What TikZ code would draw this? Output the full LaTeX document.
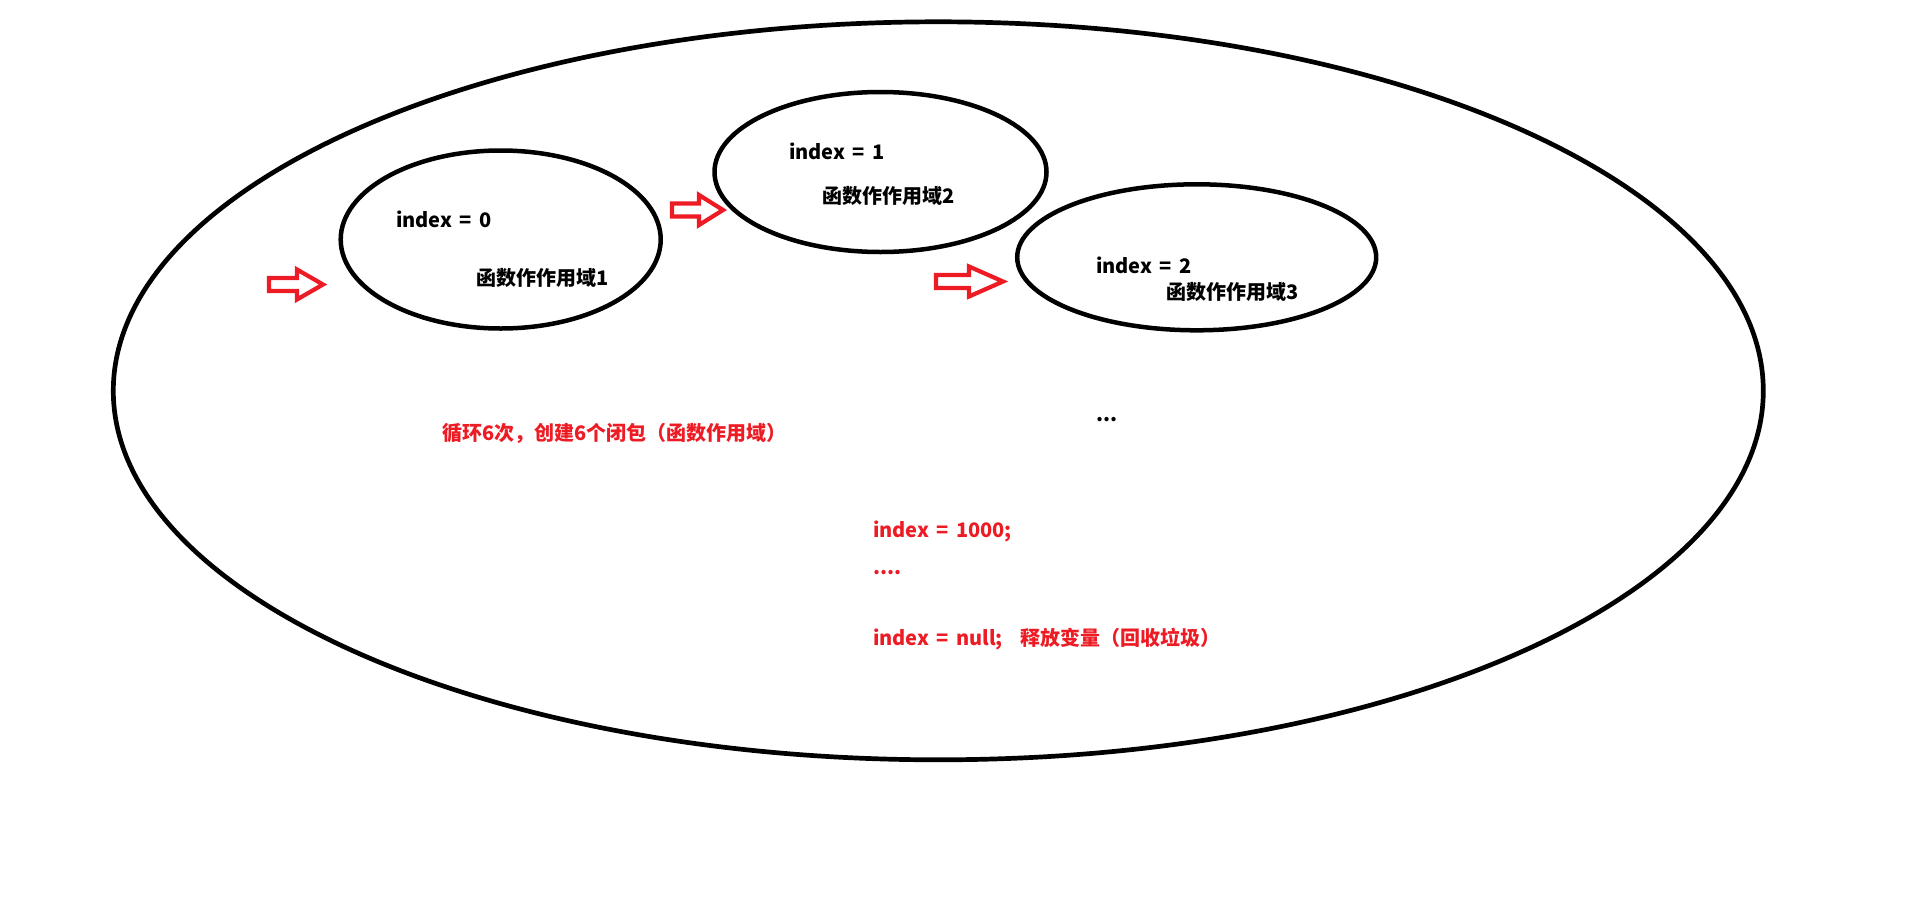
\documentclass[tikz,border=0pt]{standalone}
\usepackage{fontspec}
\setmainfont{Noto Sans CJK SC}[WordSpace=1.6]
\definecolor{paintred}{HTML}{ED1C24}
\begin{document}
\begin{tikzpicture}[x=1pt,y=-1pt,
  ring/.style={draw=black,line width=4.5pt},
  bigring/.style={draw=black,line width=4.7pt},
  arrowline/.style={draw=paintred,line width=4.2pt,line join=miter},
  lbl/.style={anchor=base west,inner sep=0pt,font=\bfseries\fontsize{20}{24}\selectfont},
  redlbl/.style={lbl,text=paintred}]
\useasboundingbox (0,0) rectangle (1914,916);
% big ellipse
\draw[bigring] (938.3,390.8) ellipse [x radius=825, y radius=369];
% scope ellipses
\draw[ring] (500.7,239.5) ellipse [x radius=160, y radius=89];
\draw[ring] (880.5,172) ellipse [x radius=166, y radius=80];
\draw[ring] (1196.7,257.3) ellipse [x radius=179.5, y radius=73];
% arrows
\draw[arrowline] (269,278) -- (297,278) -- (297,269.5) -- (323,284.5) -- (297,299.5) -- (297,291) -- (269,291) -- cycle;
\draw[arrowline] (672,203.5) -- (699,203.5) -- (699,195) -- (723,210) -- (699,225) -- (699,216.5) -- (672,216.5) -- cycle;
\draw[arrowline] (936,275) -- (969,275) -- (969,266.5) -- (1003,281.5) -- (969,296.5) -- (969,288) -- (936,288) -- cycle;
% texts
\node[lbl] (t0) at (396,227) {index = 0};
\node[lbl] (s1) at (476,285) {函数作作用域1};
\node[lbl] (t1) at (789,159) {index = 1};
\node[lbl] (s2) at (822,203) {函数作作用域2};
\node[lbl] (t2) at (1096,273) {index = 2};
\node[lbl] (s3) at (1166,299) {函数作作用域3};
\node[lbl] (dots) at (1096,421) {...};
\node[redlbl] (loop) at (442,440) {循环6次，创建6个闭包（函数作用域）};
\node[redlbl] (set) at (873,537) {index = 1000;};
\node[redlbl] (more) at (873,574) {....};
\node[redlbl] (free) at (873,645) {index = null;\hspace{0.5em} 释放变量（回收垃圾）};
\end{tikzpicture}
\end{document}
